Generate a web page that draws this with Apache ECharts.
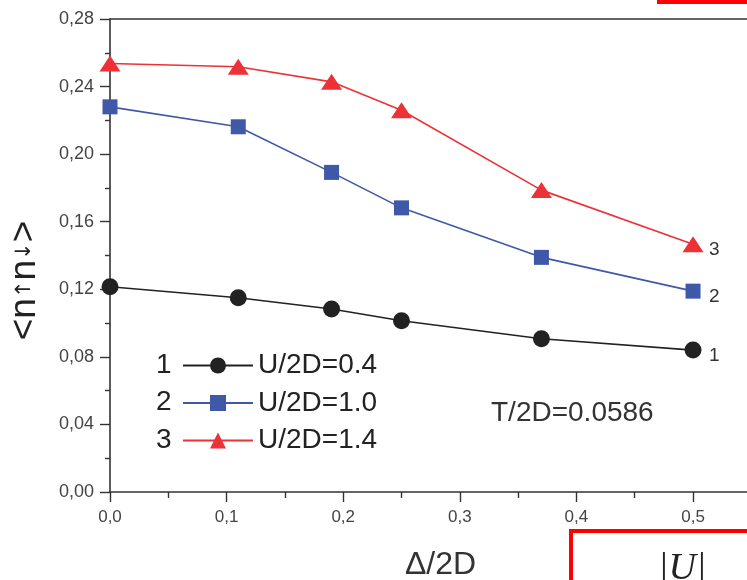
<!DOCTYPE html>
<html>
<head>
<meta charset="utf-8">
<script src="https://cdn.jsdelivr.net/npm/echarts@6/dist/echarts.min.js"></script>
<style>
  html, body { margin: 0; padding: 0; background: #fff; }
  #chart { width: 747px; height: 580px; }
</style>
</head>
<body>
<div id="chart"></div>
<script>
// ---- data ----
const deltaValues = [0, 0.11, 0.19, 0.25, 0.37, 0.5];
const seriesNames = ['U/2D=0.4', 'U/2D=1.0', 'U/2D=1.4'];
const curveNumbers = ['1', '2', '3'];
const u04 = [0.1215, 0.115, 0.1083, 0.1014, 0.0907, 0.084];
const u10 = [0.228, 0.2162, 0.1892, 0.1682, 0.1389, 0.1189];
const u14 = [0.2537, 0.2517, 0.2428, 0.226, 0.1787, 0.1467];
const yTicks = [0, 0.04, 0.08, 0.12, 0.16, 0.20, 0.24, 0.28];
const xTicks = [0, 0.1, 0.2, 0.3, 0.4, 0.5];
const annotation = 'T/2D=0.0586';

const zip = (xs, ys) => xs.map((x, i) => [x, ys[i]]);

const colors = ['#222222', '#3f58a8', '#ec3237'];
const symbols = ['circle', 'rect', 'triangle'];
const symbolSizes = [17, 15, [21, 16]];
const values = [u04, u10, u14];

const chart = echarts.init(document.getElementById('chart'));

const series = values.map((vals, i) => ({
  name: seriesNames[i],
  type: 'line',
  data: zip(deltaValues, vals),
  symbol: symbols[i],
  symbolSize: symbolSizes[i],
  showAllSymbol: true,
  lineStyle: { color: colors[i], width: 1.6 },
  itemStyle: { color: colors[i] },
  emphasis: { disabled: true },
  animation: false,
  endLabel: {
    show: true,
    formatter: curveNumbers[i],
    fontSize: 19,
    fontFamily: 'Liberation Sans, Arial, sans-serif',
    color: '#333',
    distance: 16,
    offset: [0, 6]
  }
}));

const axisFont = 'Liberation Sans, Arial, sans-serif';

chart.setOption({
  animation: false,
  backgroundColor: '#ffffff',
  grid: { left: 110, top: 19, width: 653, height: 473, containLabel: false, outerBoundsMode: 'none' },
  legend: {
    data: seriesNames,
    orient: 'vertical',
    left: 177,
    top: 346,
    itemWidth: 70,
    itemHeight: 20,
    itemGap: 8.5,
    selectedMode: false,
    textStyle: { fontSize: 28, lineHeight: 29, color: '#222', fontFamily: axisFont }
  },
  xAxis: [{
    type: 'value',
    min: 0,
    max: 0.56,
    interval: 0.1,
    position: 'bottom',
    name: 'Δ/2D',
    nameLocation: 'middle',
    nameGap: 57,
    nameTextStyle: { fontSize: 32, color: '#333', fontFamily: axisFont, padding: [0, 0, 0, 8] },
    axisLine: { show: true, lineStyle: { color: '#333', width: 1.6 } },
    axisTick: { show: true, inside: false, length: 10, lineStyle: { color: '#333', width: 1.4 } },
    minorTick: { show: true, splitNumber: 2, length: 6, lineStyle: { color: '#333', width: 1.4 } },
    axisLabel: {
      fontSize: 17, color: '#444', fontFamily: axisFont, margin: 17,
      showMaxLabel: false,
      formatter: v => xTicks.some(t => Math.abs(t - v) < 1e-9) ? v.toFixed(1).replace('.', ',') : ''
    },
    splitLine: { show: false }
  }, {
    type: 'value',
    min: 0,
    max: 0.56,
    position: 'top',
    axisLine: { show: true, lineStyle: { color: '#333', width: 1.6 } },
    axisTick: { show: false },
    axisLabel: { show: false },
    splitLine: { show: false }
  }],
  yAxis: {
    type: 'value',
    min: 0,
    max: 0.28,
    interval: 0.04,
    name: '{a|<n}{s|↑}{a|n}{s|↓}{a|>}',
    nameLocation: 'middle',
    nameRotate: 90,
    nameGap: 67,
    nameTextStyle: {
      padding: [0, 50, 0, 0],
      rich: {
        a: { fontSize: 37, color: '#222', fontFamily: axisFont },
        s: { fontSize: 21, color: '#222', fontFamily: 'DejaVu Sans' }
      }
    },
    axisLine: { show: true, lineStyle: { color: '#333', width: 1.6 } },
    axisTick: { show: true, inside: false, length: 10, lineStyle: { color: '#333', width: 1.4 } },
    minorTick: { show: true, splitNumber: 2, length: 5, lineStyle: { color: '#333', width: 1.4 } },
    axisLabel: {
      fontSize: 18, color: '#444', fontFamily: axisFont, margin: 16,
      formatter: v => yTicks.some(t => Math.abs(t - v) < 1e-9) ? v.toFixed(2).replace('.', ',') : ''
    },
    splitLine: { show: false }
  },
  graphic: [
    ...curveNumbers.map((n, i) => ({
      type: 'text',
      x: 156,
      y: 365 + i * 37.5,
      style: { text: n, fontSize: 28, fill: '#222', fontFamily: axisFont, verticalAlign: 'middle' }
    })),
    {
      type: 'text',
      left: 491,
      top: 399,
      style: { text: annotation, fontSize: 28, fill: '#333', fontFamily: axisFont }
    },
    {
      type: 'rect',
      shape: { x: 657, y: 0, width: 95, height: 4 },
      style: { fill: '#ff0000' }
    },
    {
      type: 'rect',
      shape: { x: 571, y: 531, width: 190, height: 70 },
      style: { fill: 'none', stroke: '#ff0000', lineWidth: 4 }
    },
    {
      type: 'text',
      left: 658,
      top: 550,
      style: { text: '|U|', fontSize: 38, fill: '#222', fontFamily: 'Liberation Serif, serif', fontStyle: 'italic' }
    }
  ],
  series: series
});
</script>
</body>
</html>
